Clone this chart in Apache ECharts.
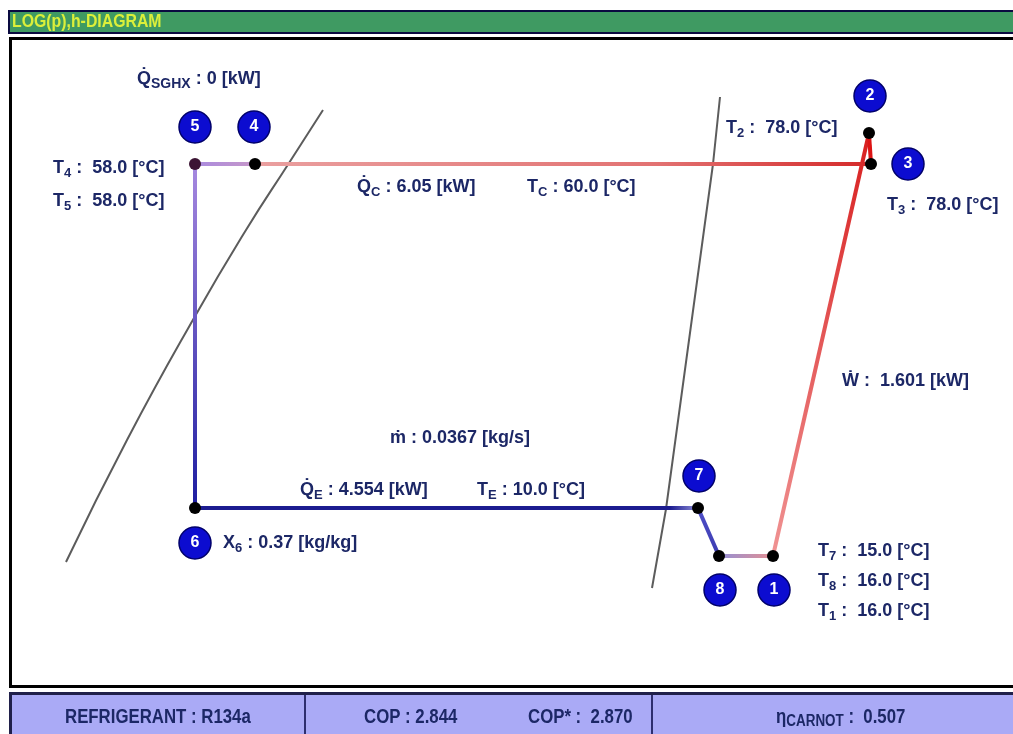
<!DOCTYPE html>
<html>
<head>
<meta charset="utf-8">
<script src="https://cdn.jsdelivr.net/npm/echarts@6/dist/echarts.min.js"></script>
<style>
html,body{margin:0;padding:0;background:#fff;}
#chart{width:1013px;height:734px;}
</style>
</head>
<body>
<div id="chart"></div>
<script>
// state points of the cycle (diagram units: h across, log p up)
var stateNames = ['1','2','3','4','5','6','7','8'];
var stateH = [764, 860, 862, 246, 186, 186, 689, 710];
var stateP = [132, 555, 524, 524, 524, 180, 180, 132];
var stateTemp = ['16.0','78.0','78.0','58.0','58.0',null,'15.0','16.0'];

// saturated liquid / vapour curves
var liqH = [57, 118, 185, 237, 280, 314];
var liqP = [126, 248, 370, 458, 525, 578];
var vapH = [643, 657, 704, 711];
var vapP = [100, 179, 524, 591];

// segment i goes from state i to state i+1, colour at start / end
var segColA = ['#f09494','#dc1414','#d42828','#c898c8','#a88ae0','#1c1c90','#5050c8','#9090d8'];
var segColB = ['#d81e1e','#dc1414','#eaa0a0','#a88ae0','#1c1ca0','#9a9ae0','#3a3ab0','#e89090'];

var qSGHX = 0, qC = 6.05, tC = 60.0, w = 1.601, mDot = '0.0367', qE = 4.554, tE = 10.0, x6 = 0.37;
var refrigerant = 'R134a', cop = 2.844, copStar = 2.870, etaCarnot = 0.507;

var TXT = '#1c2766';
var FONT = '"Liberation Sans", Arial, sans-serif';

function rich(size, subSize, drop){
	return {
		a: {fontSize: size, fontWeight: 'bold', fontFamily: FONT, fill: TXT},
		s: {fontSize: subSize, fontWeight: 'bold', fontFamily: FONT, fill: TXT, padding: [drop,0,0,0]}
	};
}
function lab(main, sub, rest){
	return '{a|' + main + '}' + (sub ? '{s|' + sub + '}' : '') + '{a|' + rest + '}';
}
function tLab(i){
	return lab('T', stateNames[i], ' :  ' + stateTemp[i] + ' [°C]');
}

var myChart = echarts.init(document.getElementById('chart'));

var series = [];
series.push({
	type: 'line', smooth: true, symbol: 'none', silent: true, z: 1,
	lineStyle: {color: '#5c5c5c', width: 2},
	data: liqH.map(function(h, i){ return [h, liqP[i]]; })
});
series.push({
	type: 'line', symbol: 'none', silent: true, z: 1,
	lineStyle: {color: '#5c5c5c', width: 2},
	data: vapH.map(function(h, i){ return [h, vapP[i]]; })
});

for (var i = 0; i < 8; i++) {
	var j = (i + 1) % 8;
	var dx = stateH[j] - stateH[i], dy = stateP[j] - stateP[i];
	var g;
	var stops = [{offset: 0, color: segColA[i]}, {offset: 1, color: segColB[i]}];
	if (i == 5) stops = [{offset: 0, color: segColA[i]}, {offset: 0.94, color: segColA[i]}, {offset: 1, color: segColB[i]}];
	if (i == 2) stops = [{offset: 0, color: segColA[i]}, {offset: 0.35, color: '#e27272'}, {offset: 1, color: segColB[i]}];
	if (Math.abs(dx) > Math.abs(dy)) {
		g = dx > 0 ? new echarts.graphic.LinearGradient(0, 0, 1, 0, stops) : new echarts.graphic.LinearGradient(1, 0, 0, 0, stops);
	} else {
		g = dy > 0 ? new echarts.graphic.LinearGradient(0, 1, 0, 0, stops) : new echarts.graphic.LinearGradient(0, 0, 0, 1, stops);
	}
	series.push({
		type: 'line', symbol: 'none', silent: true, z: 2,
		lineStyle: {color: g, width: 4},
		data: [[stateH[i], stateP[i]], [stateH[j], stateP[j]]]
	});
}

series.push({
	type: 'scatter', symbolSize: 12, z: 4, silent: true,
	data: stateNames.map(function(n, i){
		return {name: n, value: [stateH[i], stateP[i]], itemStyle: {color: n == '5' ? '#3c1434' : '#000', opacity: 1}};
	})
});

// badge placement next to each point (pixels)
var badgeOffset = [[1,34],[1,-37],[37,0],[-1,-37],[0,-37],[0,35],[1,-32],[1,34]];
series.push({
	type: 'scatter', symbolSize: 32, z: 5, silent: true,
	itemStyle: {color: '#0c0cd0', borderColor: '#00006a', borderWidth: 1.5, opacity: 1},
	label: {show: true, position: 'inside', formatter: '{b}', color: '#fff', fontWeight: 'bold', fontSize: 16, fontFamily: FONT},
	data: stateNames.map(function(n, i){
		return {name: n, value: [stateH[i], stateP[i]], symbolOffset: badgeOffset[i]};
	})
});

// text notes: [left, middle y, text]
var notes = [
	[137, 79, lab('Q\u0307', 'SGHX', ' : ' + qSGHX + ' [kW]')],
	[53, 168, tLab(3)],
	[53, 201, tLab(4)],
	[357, 187, lab('Q\u0307', 'C', ' : ' + qC.toFixed(2) + ' [kW]')],
	[527, 187, lab('T', 'C', ' : ' + tC.toFixed(1) + ' [°C]')],
	[726, 128, tLab(1)],
	[887, 205, tLab(2)],
	[842, 381, lab('\u1E86', '', ' :  ' + w.toFixed(3) + ' [kW]')],
	[390, 438, lab('\u1E41', '', ' : ' + mDot + ' [kg/s]')],
	[300, 490, lab('Q\u0307', 'E', ' : ' + qE.toFixed(3) + ' [kW]')],
	[477, 490, lab('T', 'E', ' : ' + tE.toFixed(1) + ' [°C]')],
	[223, 543, lab('X', '6', ' : ' + x6.toFixed(2) + ' [kg/kg]')],
	[818, 551, tLab(6)],
	[818, 581, tLab(7)],
	[818, 611, tLab(0)]
];

var graphics = [
	{type: 'rect', shape: {x: 9, y: 11, width: 1010, height: 22}, style: {fill: '#3f9a62', stroke: '#0a0a40', lineWidth: 2}, z: 0},
	{type: 'text', x: 12, y: 22, scaleX: 0.88, style: {text: 'LOG(p),h-DIAGRAM', fill: '#dcef3a', font: 'bold 18px ' + FONT, align: 'left', verticalAlign: 'middle', textAlign: 'left', textVerticalAlign: 'middle'}, z: 1},
	{type: 'rect', shape: {x: 10.5, y: 38.5, width: 1010, height: 648}, style: {fill: 'none', stroke: '#000', lineWidth: 3}, z: 0},
	{type: 'rect', shape: {x: 10.5, y: 693.5, width: 1010, height: 50}, style: {fill: '#aaaaf6', stroke: '#20204a', lineWidth: 3}, z: 0},
	{type: 'line', shape: {x1: 305, y1: 695, x2: 305, y2: 734}, style: {stroke: '#2e2e6e', lineWidth: 2}, z: 1},
	{type: 'line', shape: {x1: 652, y1: 695, x2: 652, y2: 734}, style: {stroke: '#2e2e6e', lineWidth: 2}, z: 1}
];

notes.forEach(function(n, k){
	graphics.push({type: 'text', x: n[0], y: n[1], z: 10, style: {text: n[2], rich: rich(18, k == 0 ? 14 : 13, 10), align: 'left', verticalAlign: 'middle'}});
});

var footer = [
	[65, '{a|REFRIGERANT : ' + refrigerant + '}'],
	[364, '{a|COP : ' + cop.toFixed(3) + '}'],
	[528, '{a|COP* :  ' + copStar.toFixed(3) + '}'],
	[776, lab('η', 'CARNOT', ' :  ' + etaCarnot.toFixed(3))]
];
footer.forEach(function(f){
	graphics.push({type: 'text', x: f[0], y: 717, scaleX: 0.84, z: 10, style: {text: f[1], rich: rich(20, 16, 9), align: 'left', verticalAlign: 'middle'}});
});

var option = {
	animation: false,
	backgroundColor: '#fff',
	grid: {left: 9, right: 0, top: 38, bottom: 46},
	xAxis: {type: 'value', min: 0, max: 1004, show: false},
	yAxis: {type: 'value', min: 0, max: 650, show: false},
	graphic: graphics,
	series: series
};
myChart.setOption(option);
window.addEventListener("resize", function(){
	myChart.resize();
});
</script>
</body>
</html>
